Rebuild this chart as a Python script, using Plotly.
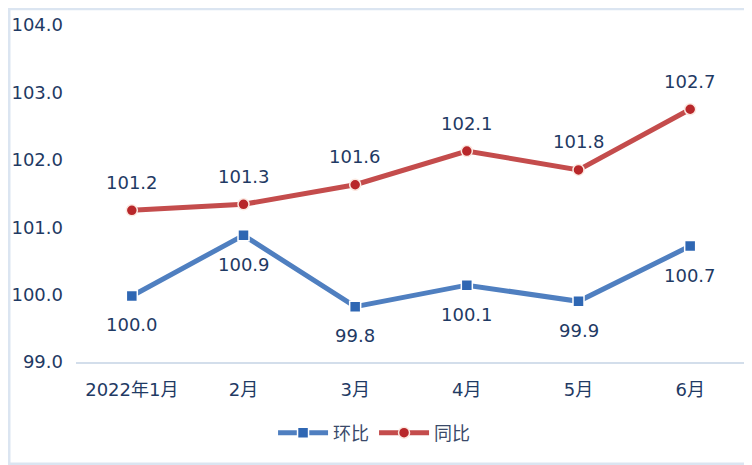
import plotly.graph_objects as go

months = ["2022年1月", "2月", "3月", "4月", "5月", "6月"]
mom = [99.98, 100.88, 99.82, 100.14, 99.90, 100.72]
mom_labels = ["100.0", "100.9", "99.8", "100.1", "99.9", "100.7"]
yoy = [101.25, 101.34, 101.63, 102.13, 101.85, 102.75]
yoy_labels = ["101.2", "101.3", "101.6", "102.1", "101.8", "102.7"]
y_ticks = [99, 100, 101, 102, 103, 104]

text_col = "#1f3a64"
font = "DejaVu Sans, Noto Sans CJK SC"

fig = go.Figure()
fig.add_trace(go.Scatter(
    x=months, y=mom, name="环比", mode="lines+markers",
    line=dict(color="#4f7fc0", width=5),
    marker=dict(symbol="square", size=11, color="#2f67b3",
                line=dict(color="white", width=1.5)),
))
fig.add_trace(go.Scatter(
    x=months, y=yoy, name="同比", mode="lines+markers",
    line=dict(color="#c44c4c", width=5),
    marker=dict(symbol="circle", size=11, color="#b8272a",
                line=dict(color="#fbe8e0", width=1.5)),
))

# value labels: 环比 below, 同比 above
for m, v, t in zip(months, mom, mom_labels):
    fig.add_annotation(x=m, y=v, text=t, showarrow=False, yshift=-29,
                       font=dict(size=18, color=text_col))
for m, v, t in zip(months, yoy, yoy_labels):
    fig.add_annotation(x=m, y=v, text=t, showarrow=False, yshift=28,
                       font=dict(size=18, color=text_col))

# light frame around the whole picture
fig.add_shape(type="rect", xref="paper", yref="paper",
              x0=-0.1, x1=1.0075, y0=-0.303, y1=1.048,
              line=dict(color="#dbe5f1", width=3), layer="below")

fig.update_layout(
    width=744, height=457,
    margin=dict(l=68, r=6, t=17, b=103, autoexpand=False),
    paper_bgcolor="white", plot_bgcolor="white",
    font=dict(family=font, size=18, color=text_col),
    showlegend=True,
    legend=dict(orientation="h", xref="container", yref="container",
                x=0.492, xanchor="center", y=0.07, yanchor="middle",
                font=dict(size=18, color="#3a4a6a"), itemwidth=50),
    hovermode=False,
)
fig.update_xaxes(range=[-0.5, 5.5], showgrid=False, showline=True, linecolor="#d3deeb",
                 linewidth=2, ticks="", ticklabelstandoff=10,
                 tickfont=dict(size=18, color=text_col), zeroline=False)
fig.update_yaxes(range=[99, 104], tickvals=y_ticks, tickformat=".1f",
                 showgrid=False, showline=False, zeroline=False, ticks="",
                 ticklabelstandoff=12, tickfont=dict(size=18, color=text_col))

fig.write_html("out.html")
